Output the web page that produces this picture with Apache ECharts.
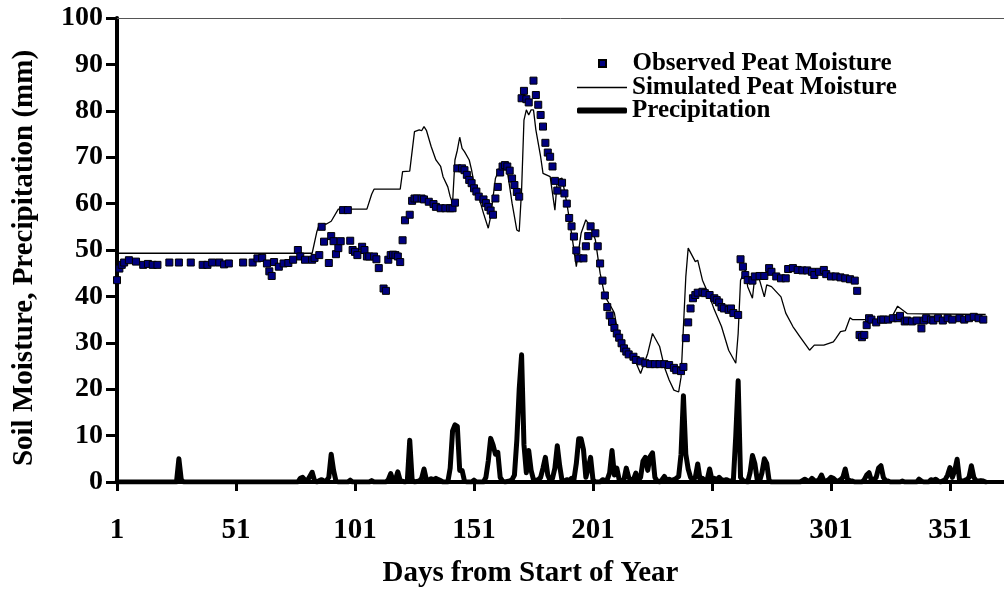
<!DOCTYPE html>
<html>
<head>
<meta charset="utf-8">
<script src="https://cdn.jsdelivr.net/npm/echarts@6/dist/echarts.min.js"></script>
<style>
  html, body { margin: 0; padding: 0; background: #ffffff; }
  #chart { width: 1004px; height: 590px; }
</style>
</head>
<body>
<div id="chart"></div>
<script>
// Day-of-year tick positions on the horizontal axis
const dayTicks = [1, 51, 101, 151, 201, 251, 301, 351];

// Observed peat moisture, [day, mm]
const observed = [
  [1,43.5],[2,46.0],[3,46.8],[4,47.3],[6,47.8],[9,47.5],[12,46.8],[14,47.0],[16,46.8],[18,46.8],
  [23,47.3],[27,47.3],[32,47.3],[37,46.8],[39,46.8],[41,47.3],[44,47.3],[46,46.9],[48,47.1],[54,47.3],
  [58,47.3],[60,48.2],[62,48.3],[64,47.1],[65,45.4],[66,44.4],[67,47.4],[69,46.4],[71,47.1],[73,47.2],
  [75,47.9],[77,50.0],[78,48.6],[80,47.9],[83,47.9],[84,48.3],[86,48.9],[87,55.0],[88,51.8],[90,47.2],
  [91,53.0],[92,51.9],[93,49.1],[94,50.4],[95,51.9],[96,58.6],[98,58.6],[99,52.0],[100,50.0],[101,49.6],
  [102,48.9],[104,50.7],[105,50.0],[106,48.6],[107,48.6],[109,48.6],[110,48.0],[111,46.1],[113,41.7],[114,41.2],
  [115,47.9],[116,48.9],[117,49.0],[118,48.9],[119,48.6],[120,47.4],[121,52.1],[122,56.4],[124,57.6],[125,60.6],
  [126,61.1],[127,61.1],[129,61.1],[130,60.9],[132,60.4],[134,59.9],[135,59.3],[137,59.0],[139,59.0],[141,59.0],
  [142,59.0],[143,60.2],[144,67.6],[146,67.6],[147,67.2],[148,66.2],[149,65.1],[150,64.4],[151,63.3],[152,62.6],
  [153,61.5],[155,60.9],[156,60.1],[157,59.3],[158,58.5],[159,57.6],[160,61.1],[161,63.6],[162,66.7],[163,68.0],
  [164,68.3],[165,68.0],[166,67.1],[167,65.4],[168,64.0],[169,62.5],[170,61.5],[171,82.7],[172,84.3],[173,82.5],
  [174,81.8],[176,86.5],[177,83.4],[178,81.3],[179,79.1],[180,76.6],[181,73.1],[182,71.0],[183,70.1],[184,68.0],
  [185,64.9],[186,62.8],[188,64.5],[189,62.2],[190,60.0],[191,56.9],[192,55.1],[193,52.9],[194,49.9],[195,48.2],
  [197,48.2],[198,50.8],[199,53.0],[200,55.1],[202,53.6],[203,50.8],[204,47.1],[205,43.4],[206,40.2],[207,37.7],
  [208,35.9],[209,34.5],[210,33.2],[211,32.0],[212,31.1],[213,29.9],[214,28.8],[215,28.1],[216,27.5],[218,27.0],
  [219,26.3],[221,26.0],[223,25.6],[225,25.4],[227,25.4],[229,25.4],[231,25.4],[233,25.2],[235,24.6],[236,24.1],
  [238,23.9],[239,24.8],[240,31.0],[241,34.4],[242,37.4],[243,39.6],[244,40.3],[245,40.8],[247,41.0],[248,40.7],
  [250,40.3],[252,39.6],[253,39.2],[254,38.7],[255,37.7],[256,37.4],[258,37.1],[259,37.4],[260,36.4],[262,36.0],
  [263,48.0],[264,46.4],[265,44.6],[266,43.5],[268,43.4],[269,44.3],[271,44.4],[273,44.4],[275,46.1],[276,45.3],
  [278,44.3],[280,43.9],[282,43.9],[283,45.9],[285,46.1],[287,45.7],[289,45.6],[291,45.6],[293,45.3],[294,44.6],
  [296,45.3],[298,45.7],[299,44.8],[301,44.3],[303,44.3],[305,44.1],[307,43.9],[309,43.7],[311,43.4],[312,41.2],
  [313,31.7],[314,31.2],[315,31.7],[316,33.8],[317,35.3],[318,35.0],[320,34.4],[322,35.0],[323,35.0],[325,35.0],
  [327,35.3],[329,35.3],[330,35.8],[332,34.6],[333,34.8],[335,34.6],[337,34.8],[339,33.1],[340,34.8],[341,35.3],
  [343,35.0],[344,34.8],[346,35.3],[348,34.8],[350,35.3],[352,35.0],[355,35.3],[357,35.0],[359,35.3],[361,35.6],
  [363,35.3],[365,35.0]
];

// Simulated peat moisture, [day, mm]
const simulated = [
  [1,49.3],[83,49.3],[85,54.0],[86,55.5],[89,55.6],[91,56.2],[94,58.8],[106,58.8],[108,62.0],[109,63.1],
  [120,63.1],[121,66.9],[124,67.0],[126,75.5],[128,75.9],[129,75.7],[130,76.6],[131,75.8],[133,72.3],[135,69.4],
  [137,68.0],[138,65.8],[140,63.6],[141,61.5],[142,60.1],[143,69.4],[144,71.5],[145,74.3],[146,71.9],[147,71.2],
  [149,69.4],[150,67.2],[151,64.4],[153,61.5],[155,57.9],[157,54.7],[158,57.2],[160,65.4],[162,68.0],[163,68.6],
  [165,66.9],[166,63.6],[167,60.1],[169,54.3],[170,54.0],[171,62.9],[172,78.0],[173,80.2],[174,79.1],[175,80.2],
  [176,80.2],[177,75.9],[179,70.1],[180,66.5],[183,65.8],[185,58.6],[186,65.1],[188,65.5],[190,60.1],[192,53.6],
  [194,46.4],[196,53.6],[198,56.5],[200,55.0],[202,52.2],[204,45.0],[206,40.0],[209,37.4],[210,36.4],[212,30.6],
  [215,29.2],[218,27.0],[221,23.4],[224,27.7],[226,32.0],[229,29.2],[231,24.8],[233,22.0],[235,19.8],[237,19.4],
  [238,22.6],[240,44.2],[241,50.4],[244,47.5],[245,47.8],[247,43.5],[250,39.9],[252,37.1],[255,33.5],[258,28.4],
  [261,25.6],[262,32.0],[263,43.5],[265,45.7],[266,42.1],[268,39.6],[269,44.3],[271,43.5],[273,39.9],[274,42.5],
  [276,42.1],[280,39.9],[282,36.4],[285,33.5],[288,31.3],[292,28.4],[294,29.5],[298,29.5],[302,30.2],[303,30.9],
  [305,32.4],[307,32.6],[309,35.4],[310,35.0],[326,35.0],[329,37.9],[333,36.3],[366,36.1]
];

// Daily precipitation, [day, mm]
const precipitation = [
  [1,0],[26,0],[27,5.0],[28,0.5],[29,0],
  [77,0],[78,0.8],[79,1.0],[80,0.4],[81,0.3],[82,1.2],[83,2.1],[84,0.3],[85,0],[86,0.3],[87,0.5],[88,0.2],
  [89,0.3],[90,1.0],[91,6.0],[92,2.5],[93,0.2],[94,0],
  [98,0],[99,0.4],[100,0],[107,0],[108,0.3],[109,0],
  [114,0],[115,0.5],[116,1.8],[117,0.3],[118,0.5],[119,2.2],[120,0.3],[122,0],[123,0.3],[124,9.0],[125,0.5],[126,0],
  [128,0.2],[129,0.8],[130,2.8],[131,0.5],[132,0.4],[133,0.7],[134,0.5],[135,0.8],[136,0.5],[137,0.3],[138,0],
  [140,0],[141,3.0],[142,11.0],[143,12.3],[144,12.0],[145,2.5],[146,2.5],[147,0.2],[148,0],
  [150,0],[151,0.4],[152,0],[155,0],[156,1.0],[157,4.5],[158,9.4],[159,8.0],[160,6.0],[161,6.4],[162,1.0],[163,0.2],[164,0],
  [166,0.2],[167,0.5],[168,1.5],[169,9.0],[170,20.0],[171,27.4],[172,8.0],[173,2.0],[174,6.8],[175,2.5],[176,0.5],[177,0.3],
  [178,0.5],[179,1.0],[180,3.0],[181,5.3],[182,1.5],[183,0.3],[184,0.8],[185,3.0],[186,7.8],[187,3.5],[188,0.3],[189,0.2],
  [190,0.5],[191,0.3],[192,0.8],[193,0.5],[194,4.0],[195,9.3],[196,9.3],[197,7.0],[198,1.0],[199,3.0],[200,5.3],[201,0.5],[202,0],
  [204,0],[205,0.5],[206,0.3],[207,0.5],[208,2.0],[209,6.8],[210,1.5],[211,3.0],[212,0.5],[213,0.3],[214,0.5],[215,3.0],
  [216,1.0],[217,0.3],[218,0.5],[219,1.9],[220,0.3],[221,1.0],[222,4.5],[223,5.3],[224,2.5],[225,5.5],[226,6.3],[227,1.0],
  [228,0.2],[229,0],[230,0.5],[231,1.2],[232,0.3],[233,0.6],[234,0.3],[235,0.5],[236,0.8],[237,1.2],[238,6.0],[239,18.6],
  [240,6.0],[241,2.8],[242,1.0],[243,0.5],[244,1.0],[245,3.9],[246,0.5],[247,0.8],[248,0.3],[249,0.5],[250,2.8],[251,0.5],
  [252,0.8],[253,0.5],[254,1.0],[255,0.5],[256,0.3],[257,0.5],[258,0.3],[259,0.2],[260,0.5],[261,10.0],[262,21.8],[263,1.0],
  [264,0.3],[266,0],[267,2.0],[268,5.7],[269,4.0],[270,0.5],[271,0.2],[272,2.0],[273,5.0],[274,4.0],[275,0.3],[276,0],
  [288,0],[289,0.3],[290,0.6],[291,0.3],[292,0.2],[293,0.8],[294,0.3],[295,0.2],[296,0.5],[297,1.5],[298,0.3],[299,0.2],
  [300,0.5],[301,1.0],[302,0.8],[303,0.3],[304,0.2],[305,0.5],[306,1.0],[307,2.8],[308,0.5],[309,0.3],[310,0.2],[311,0],
  [314,0],[315,0.5],[316,1.5],[317,2.0],[318,0.3],[319,0.5],[320,1.0],[321,3.0],[322,3.5],[323,1.0],[324,0.3],[325,0.2],[326,0],
  [330,0],[331,0.2],[332,0],[337,0],[338,0.6],[339,0.2],[340,0],[342,0],[343,0.5],[344,0.3],[345,0.6],[346,0.2],[347,0],
  [349,0.5],[350,1.5],[351,3.1],[352,1.0],[353,2.5],[354,4.9],[355,0.5],[356,0.2],[357,0.3],[358,0.5],[359,1.0],[360,3.5],
  [361,1.0],[362,0.3],[363,0.2],[364,0.3],[365,0.2],[366,0]
];

const FONT = 'Liberation Serif';
const legendText = { fontFamily: FONT, fontWeight: 'bold', fontSize: 25, lineHeight: 24, color: '#000' };

// One legend block per series so each key keeps its own glyph size
function legendRow(name, left, top, icon, height) {
  return {
    orient: 'vertical',
    left: left,
    top: top,
    padding: 0,
    itemWidth: 50,
    itemHeight: height,
    symbolKeepAspect: true,
    data: [{ name: name, icon: icon }],
    textStyle: legendText
  };
}

const chart = echarts.init(document.getElementById('chart'), null, { renderer: 'canvas' });

chart.setOption({
  animation: false,
  backgroundColor: '#ffffff',
  grid: { left: 117, right: 0, top: 18, bottom: 108, containLabel: false, outerBoundsMode: 'none' },
  legend: [
    legendRow('Observed Peat Moisture', 598, 51, 'path://M0,0H10V10H0Z', 7),
    legendRow('Simulated Peat Moisture', 577, 75, 'rect', 1.4),
    legendRow('Precipitation', 577, 98, 'roundRect', 6)
  ],
  xAxis: [
    {
      type: 'value',
      min: 1,
      max: 373.7,
      position: 'bottom',
      name: 'Days from Start of Year',
      nameLocation: 'middle',
      nameGap: 77,
      nameTextStyle: { fontFamily: FONT, fontWeight: 'bold', fontSize: 29, color: '#000', padding: [0, 60, 0, 0] },
      axisLine: { onZero: false, lineStyle: { color: '#000', width: 4 } },
      axisTick: { show: true, inside: false, length: 9, customValues: dayTicks, lineStyle: { color: '#000', width: 3 } },
      axisLabel: { customValues: dayTicks, margin: 34, fontFamily: FONT, fontWeight: 'bold', fontSize: 29, color: '#000' },
      splitLine: { show: false }
    },
    {
      type: 'value',
      min: 1,
      max: 373.7,
      position: 'top',
      axisLine: { onZero: false, lineStyle: { color: '#555', width: 1 } },
      axisTick: { show: false },
      axisLabel: { show: false },
      splitLine: { show: false }
    }
  ],
  yAxis: {
    type: 'value',
    min: 0,
    max: 100,
    interval: 10,
    name: 'Soil Moisture, Precipitation (mm)',
    nameLocation: 'middle',
    nameGap: 78,
    nameTextStyle: { fontFamily: FONT, fontWeight: 'bold', fontSize: 29, color: '#000', padding: [0, 16, 0, 0] },
    axisLine: { show: true, lineStyle: { color: '#000', width: 4 } },
    axisTick: { show: true, inside: false, length: 11, lineStyle: { color: '#000', width: 3 } },
    axisLabel: { margin: 14, fontFamily: FONT, fontWeight: 'bold', fontSize: 28, color: '#000' },
    splitLine: { show: false }
  },
  series: [
    {
      name: 'Precipitation',
      type: 'line',
      data: precipitation,
      showSymbol: false,
      symbol: 'none',
      lineStyle: { color: '#000', width: 5, join: 'round', cap: 'round' },
      itemStyle: { color: '#000' },
      z: 3
    },
    {
      name: 'Simulated Peat Moisture',
      type: 'line',
      data: simulated,
      showSymbol: false,
      symbol: 'none',
      lineStyle: { color: '#000', width: 1.3 },
      itemStyle: { color: '#000' },
      z: 4
    },
    {
      name: 'Observed Peat Moisture',
      type: 'scatter',
      data: observed,
      symbol: 'rect',
      symbolSize: 7,
      itemStyle: { color: '#000080', borderColor: '#000', borderWidth: 1, opacity: 1 },
      z: 5
    }
  ]
});
</script>
</body>
</html>
